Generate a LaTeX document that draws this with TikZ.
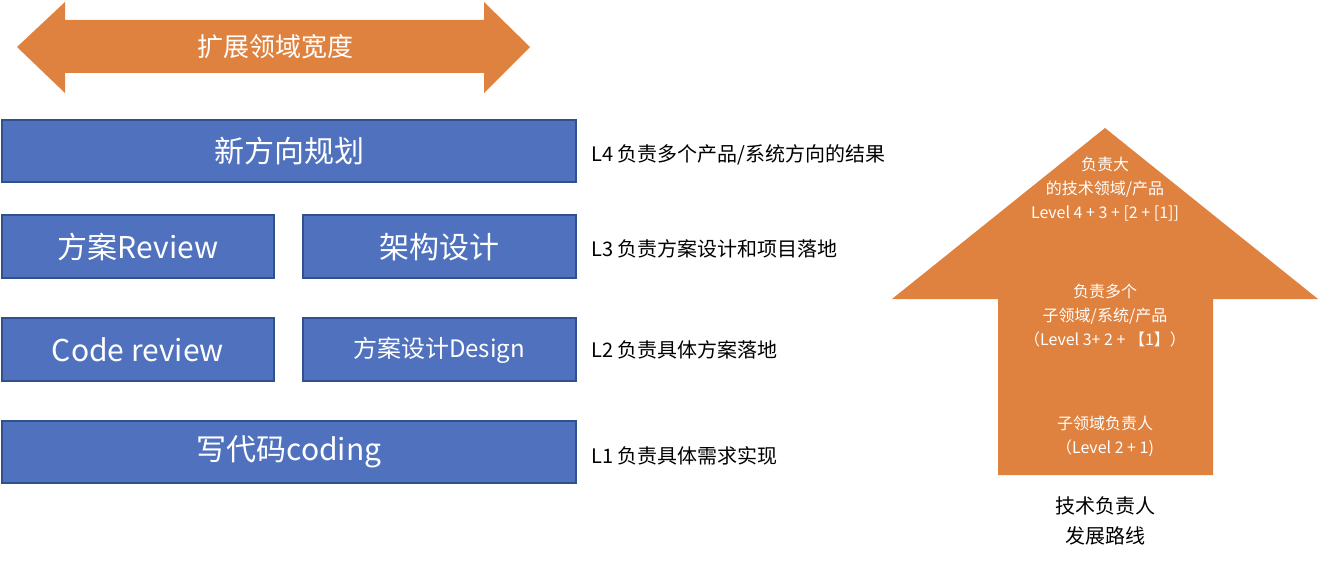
\documentclass[tikz,border=0pt]{standalone}
\usepackage{fontspec}
\setmainfont{Noto Sans CJK SC}
\definecolor{bl}{HTML}{4F71BE}
\definecolor{bd}{HTML}{2F528F}
\definecolor{og}{HTML}{E0823F}
\begin{document}
\begin{tikzpicture}[x=1pt,y=-1pt,
 box/.style={draw=bd,line width=1.5pt,fill=bl},
 bt/.style={text=white,font=\fontsize{30}{30}\selectfont},
 lab/.style={anchor=west,font=\fontsize{20}{20}\selectfont},
 arrtxt/.style={text=white,font=\fontsize{16}{24}\selectfont,align=center}]
\useasboundingbox (0,0) rectangle (1322,564);
\fill[og] (17,47) -- (65,2) -- (65,20) -- (484,20) -- (484,2) -- (530,47) -- (484,93) -- (484,73) -- (65,73) -- (65,93) -- cycle;
\node[text=white,font=\fontsize{26}{26}\selectfont] (t) at (275,47) {扩展领域宽度};
\draw[box] (2,120) rectangle (576,182); \node[bt] (b4) at (289,151) {新方向规划};
\draw[box] (2,215) rectangle (274,278); \node[bt] (b31) at (138,247) {方案Review};
\draw[box] (303,215) rectangle (576,278); \node[bt] (b32) at (439,247) {架构设计};
\draw[box] (2,318) rectangle (274,381); \node[bt] (b21) at (138,350) {Code review};
\draw[box] (303,318) rectangle (576,381); \node[text=white,font=\fontsize{24}{24}\selectfont] (b22) at (439,350) {方案设计Design};
\draw[box] (2,421) rectangle (576,483); \node[bt] (b1) at (289,452) {写代码coding};
\node[lab] (l4) at (588,155) {L4 负责多个产品/系统方向的结果};
\node[lab] (l3) at (588,249) {L3 负责方案设计和项目落地};
\node[lab] (l2) at (588,350) {L2 负责具体方案落地};
\node[lab] (l1) at (588,456) {L1 负责具体需求实现};
\fill[og] (1105,128) -- (1318,299) -- (1213,299) -- (1213,475) -- (998,475) -- (998,299) -- (892,299) -- cycle;
\node[arrtxt] (a1) at (1105,189) {负责大\\的技术领域/产品\\Level 4 + 3 + [2 + [1]]};
\node[arrtxt] (a2) at (1105,316) {负责多个\\子领域/系统/产品\\（Level 3+ 2 + 【1】）};
\node[arrtxt] (a3) at (1105,436) {子领域负责人\\（Level 2 + 1)};
\node[align=center,font=\fontsize{20}{30}\selectfont] (c) at (1105,521) {技术负责人\\发展路线};
\end{tikzpicture}
\end{document}
